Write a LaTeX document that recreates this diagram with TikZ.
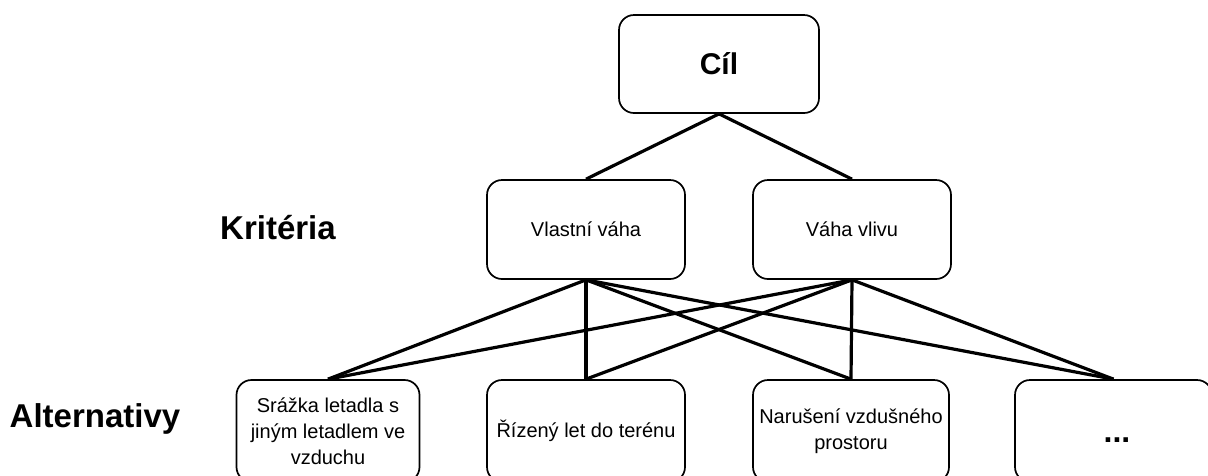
\documentclass[tikz,border=0pt]{standalone}
\usepackage{fontspec}
\setmainfont{Liberation Sans}
\begin{document}
\begin{tikzpicture}[x=1pt,y=-1pt,
  box/.style={draw=black, line width=1.7pt, rounded corners=15pt, fill=white,
    align=center, inner sep=2pt, font=\fontsize{20}{26}\selectfont},
  link/.style={draw=black, line width=3.2pt},
  level/.style={font=\fontsize{33}{38}\selectfont\bfseries}]
  \clip (0,0) rectangle (1208,475);
  \fill[white] (0,0) rectangle (1208,475);

  % goal
  \node[box, minimum width=200pt, minimum height=98pt,
        font=\fontsize{30}{34}\selectfont\bfseries] (goal) at (719,64) {Cíl};

  % criteria
  \node[box, minimum width=198pt, minimum height=99pt] (own) at (586,229.5) {Vlastní váha};
  \node[box, minimum width=198pt, minimum height=99pt] (infl) at (852,229.5) {Váha vlivu};

  % alternatives
  \node[box, minimum width=183pt, minimum height=102pt] (alt1) at (328,431)
    {Srážka letadla s\\jiným letadlem ve\\vzduchu};
  \node[box, minimum width=198pt, minimum height=102pt] (alt2) at (586,431)
    {Řízený let do terénu};
  \node[box, minimum width=196pt, minimum height=102pt] (alt3) at (851,431)
    {Narušení vzdušného\\prostoru};
  \node[box, minimum width=197pt, minimum height=102pt] (alt4) at (1113.5,431) {};
  \node[font=\fontsize{32}{34}\selectfont\bfseries] (dots) at (1117,440) {...};

  % level labels
  \node[level] (lcrit) at (278,228) {Kritéria};
  \node[level] (lalt) at (95,419) {Alternativy};

  % connectors
  \draw[link] (goal.south) -- (own.north);
  \draw[link] (goal.south) -- (infl.north);
  \foreach \a in {alt1,alt2,alt3,alt4} {
    \draw[link] (own.south) -- (\a.north);
    \draw[link] (infl.south) -- (\a.north);
  }
\end{tikzpicture}
\end{document}
